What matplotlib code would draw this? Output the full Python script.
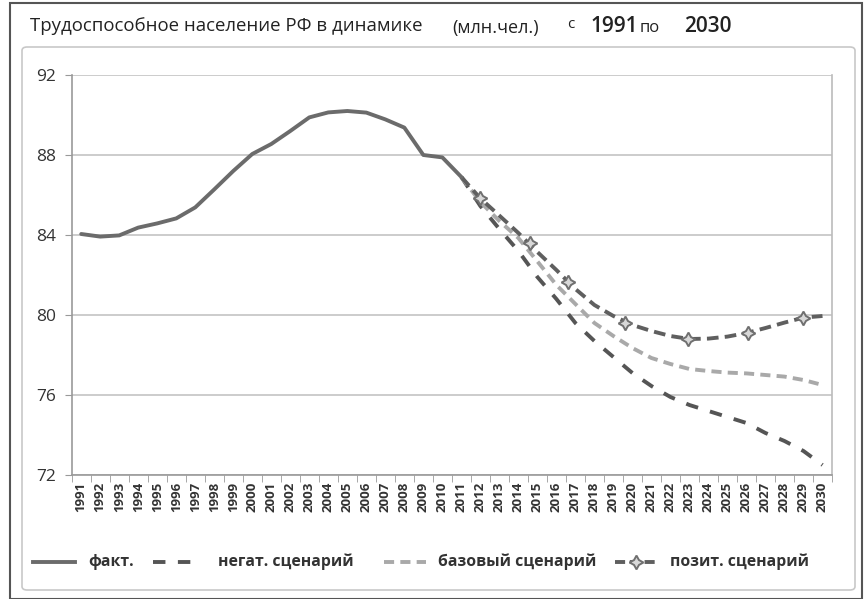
import matplotlib
matplotlib.use("Agg")
import matplotlib.pyplot as plt
from matplotlib.patches import Rectangle, FancyBboxPatch
from matplotlib.lines import Line2D

years = list(range(1991, 2031))
fact_years = list(range(1991, 2012))
fact = [84.05, 83.92, 83.98, 84.37, 84.58, 84.83, 85.38, 86.28, 87.2, 88.05,
        88.55, 89.2, 89.88, 90.13, 90.2, 90.12, 89.78, 89.37, 88.0, 87.88, 86.9]

scen_years = list(range(2011, 2031))
negative = [86.9, 85.45, 84.3, 83.2, 81.9, 80.8, 79.6, 78.7, 77.9, 77.1,
            76.45, 75.9, 75.5, 75.2, 74.9, 74.6, 74.1, 73.7, 73.2, 72.5]
base = [86.9, 85.65, 84.7, 83.85, 82.68, 81.5, 80.55, 79.6, 78.95, 78.35,
        77.85, 77.55, 77.3, 77.2, 77.12, 77.08, 77.0, 76.92, 76.75, 76.5]
positive = [86.9, 85.83, 84.97, 84.1, 83.15, 82.25, 81.3, 80.5, 79.95, 79.5,
            79.2, 78.95, 78.8, 78.82, 78.92, 79.1, 79.35, 79.62, 79.87, 79.95]
pos_marker_years = [2012.0, 2014.6, 2016.6, 2019.6, 2022.9, 2026.1, 2029.0]
pos_marker_vals = [85.83, 83.58, 81.67, 79.62, 78.78, 79.12, 79.87]

yticks = [72, 76, 80, 84, 88, 92]
legend_labels = ["факт.", "негат. сценарий", "базовый сценарий", "позит. сценарий"]

plt.rcParams['font.family'] = ['Open Sans', 'DejaVu Sans']

W, H = 866, 599
fig = plt.figure(figsize=(W / 100, H / 100), dpi=100)
fig.patch.set_facecolor('white')

# outer frame and inner rounded chart box
fig.add_artist(Rectangle((10 / W, 0), (862 - 10) / W, (H - 3) / H, transform=fig.transFigure,
                         fill=False, edgecolor='#555555', lw=1.5))
fig.add_artist(FancyBboxPatch((22 / W, (H - 590) / H), (855 - 22) / W, (590 - 47) / H,
                              boxstyle="round,pad=0,rounding_size=0.006",
                              transform=fig.transFigure, fill=False,
                              edgecolor='#c8c8c8', lw=1.2))

ax = fig.add_axes([71.7 / W, 1 - 475 / H, (832 - 71.7) / W, (475 - 75) / H])

c_fact = '#6b6b6b'
c_neg = '#555555'
c_base = '#a9a9a9'
c_pos = '#5f5f5f'
neg_dash = (3.2, 3.2)
base_dash = (2.6, 1.6)
pos_dash = (3.0, 1.6)
mk = dict(marker=(4, 1, 0), markersize=10, markerfacecolor='#d8d8d8',
          markeredgecolor='#707070', markeredgewidth=1.4)

ax.plot(fact_years, fact, color=c_fact, lw=2.8, solid_capstyle='round', zorder=5)
ax.plot(scen_years, negative, color=c_neg, lw=2.8, dashes=neg_dash, zorder=4)
ax.plot(scen_years, base, color=c_base, lw=2.8, dashes=base_dash, zorder=4)
ax.plot(scen_years, positive, color=c_pos, lw=2.8, dashes=pos_dash, zorder=4)
ax.plot(pos_marker_years, pos_marker_vals, linestyle='none', zorder=6, **mk)

ax.set_xlim(1990.5, 2030.5)
ax.set_ylim(72, 92)
ax.set_yticks(yticks)
ax.set_yticklabels([str(v) for v in yticks], fontsize=12.5, color='#333333')
ax.set_xticks(years)
ax.set_xticklabels([str(y) for y in years], rotation=90, fontsize=9.5,
                   fontweight='bold', color='#333333')
ax.set_xticks([y + 0.5 for y in range(1990, 2031)], minor=True)
ax.tick_params(axis='x', which='major', length=0, pad=5)
ax.tick_params(axis='x', which='minor', length=5, color='#999999', direction='out')
ax.tick_params(axis='y', length=5, color='#999999', direction='out', pad=6)

ax.grid(axis='y', color='#c8c8c8', lw=1.3)
ax.set_axisbelow(True)
ax.spines['top'].set_visible(False)
ax.spines['left'].set_color('#999999')
ax.spines['bottom'].set_color('#999999')
ax.spines['right'].set_color('#bbbbbb')
for s in ['left', 'bottom', 'right']:
    ax.spines[s].set_linewidth(1.2)

# title
fig.text(30 / W, 1 - 26 / H, "Трудоспособное население РФ в динамике", fontsize=13.4,
         color='#222222', va='center', ha='left')
fig.text(452 / W, 1 - 28 / H, "(млн.чел.)", fontsize=13, color='#222222', va='center')
fig.text(567 / W, 1 - 25 / H, "с", fontsize=11, color='#222222', va='center')
fig.text(590 / W, 1 - 27 / H, "1991", fontsize=15, color='#222222', va='center',
         fontweight='semibold')
fig.text(640 / W, 1 - 28 / H, "по", fontsize=12, color='#222222', va='center')
fig.text(684 / W, 1 - 27 / H, "2030", fontsize=15, color='#222222', va='center',
         fontweight='semibold')

# legend (manual placement)
ly = 1 - 562 / H
legend_items = [
    (33, 75, dict(color=c_fact, lw=2.8), 88),
    (153, 195, dict(color=c_neg, lw=2.8, dashes=neg_dash), 218),
    (384, 426, dict(color=c_base, lw=2.8, dashes=base_dash), 438),
    (615, 657, dict(color=c_pos, lw=2.8, dashes=(2.6, 1.2), **mk), 670),
]
for (x0, x1, style, tx), label in zip(legend_items, legend_labels):
    if 'marker' in style:
        fig.add_artist(Line2D([x0 / W, x1 / W], [ly, ly], transform=fig.transFigure,
                              color=style['color'], lw=style['lw'], dashes=style['dashes']))
        fig.add_artist(Line2D([(x0 + x1) / 2 / W], [ly], transform=fig.transFigure,
                              linestyle='none', **mk))
    else:
        fig.add_artist(Line2D([x0 / W, x1 / W], [ly, ly], transform=fig.transFigure, **style))
    fig.text(tx / W, ly, label, fontsize=11.3, fontweight='bold', color='#333333',
             va='center', ha='left')

fig.savefig("out.png", dpi=100, facecolor='white')
